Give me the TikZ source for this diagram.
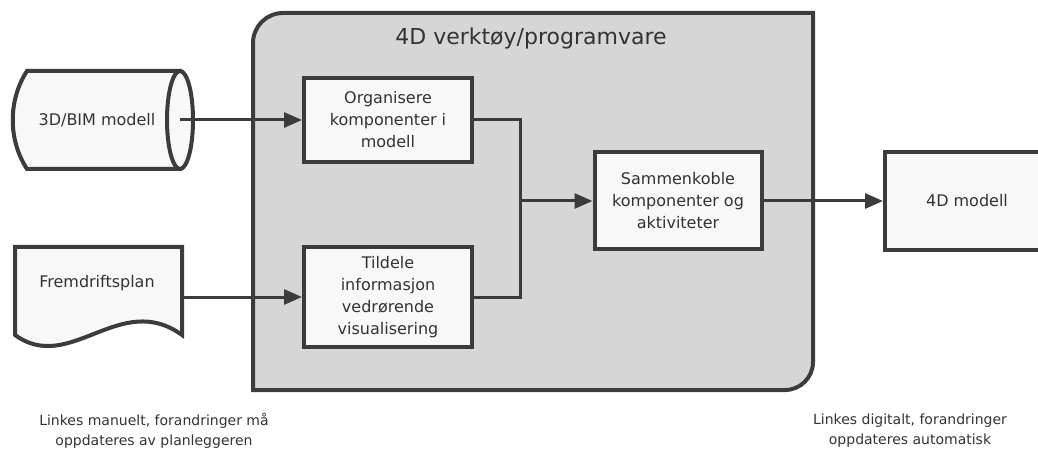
\documentclass[tikz,border=0pt]{standalone}
\usepackage{fontspec}
\setmainfont{DejaVu Sans}
\usetikzlibrary{arrows.meta}
\definecolor{edge}{HTML}{3C3C3C}
\definecolor{panel}{HTML}{D6D6D6}
\definecolor{paper}{HTML}{F8F8F8}
\definecolor{ink}{HTML}{333333}
\tikzset{
  stepbox/.style={draw=edge, line width=4pt, fill=paper, align=center, inner sep=0pt,
    minimum width=168pt, text=ink, font=\fontsize{16}{22}\selectfont},
  link/.style={draw=edge, line width=3pt, -{Triangle[length=18pt,width=15pt]}},
  outline/.style={draw=edge, line width=4pt, fill=paper},
  label/.style={text=ink, font=\fontsize{16}{22}\selectfont},
  note/.style={align=center, text=ink, font=\fontsize{14}{20}\selectfont},
}
\begin{document}
\begin{tikzpicture}[x=1pt, y=-1pt]
  \clip (0,0) rectangle (1038,454);
  \fill[white] (0,0) rectangle (1038,454);

  \draw[draw=edge, line width=4pt, fill=panel] (253,390) -- (253,43) arc (180:270:30) -- (813,13)
    -- (813,362) arc (0:90:28) -- cycle;
  \node[text=ink, font=\fontsize{22}{26}\selectfont] (tool) at (531,38) {4D verktøy/programvare};

  \filldraw[outline] (27,71) -- (180,71) -- (180,169) -- (27,169) .. controls (8,140) and (8,100) .. (27,71) -- cycle;
  \filldraw[outline] (180,120) ellipse (13 and 49);
  \node[label] (bim) at (97,120) {3D/BIM modell};
  \coordinate (bimend) at (180,120);

  \filldraw[outline] (15,247) -- (182,247) -- (182,335) .. controls (120,290) and (70,375) .. (15,335) -- cycle;
  \node[label] (plan) at (97,283) {Fremdriftsplan};
  \coordinate (planend) at (182,297);

  \node[stepbox, minimum height=84pt] (organise) at (388,120) {Organisere\\komponenter i\\modell};
  \node[stepbox, minimum height=100pt] (assign) at (388,297) {Tildele\\informasjon\\vedrørende\\visualisering};
  \node[stepbox, minimum width=167pt, minimum height=97pt] (couple) at (678,201) {Sammenkoble\\komponenter og\\aktiviteter};
  \node[stepbox, minimum width=164pt, minimum height=98pt] (model) at (967,201) {4D modell};
  \coordinate (merge) at (520,201);

  \draw[link] (bimend) -- (organise);
  \draw[link] (planend) -- (assign);
  \draw[draw=edge, line width=3pt] (organise.east) -| (merge);
  \draw[draw=edge, line width=3pt] (assign.east) -| (merge);
  \draw[link] (merge) -- (couple);
  \draw[link] (couple) -- (model);

  \node[note] (manual) at (154,431) {Linkes manuelt, forandringer må\\oppdateres av planleggeren};
  \node[note] (digital) at (910,431) {Linkes digitalt, forandringer\\oppdateres automatisk};
\end{tikzpicture}
\end{document}
